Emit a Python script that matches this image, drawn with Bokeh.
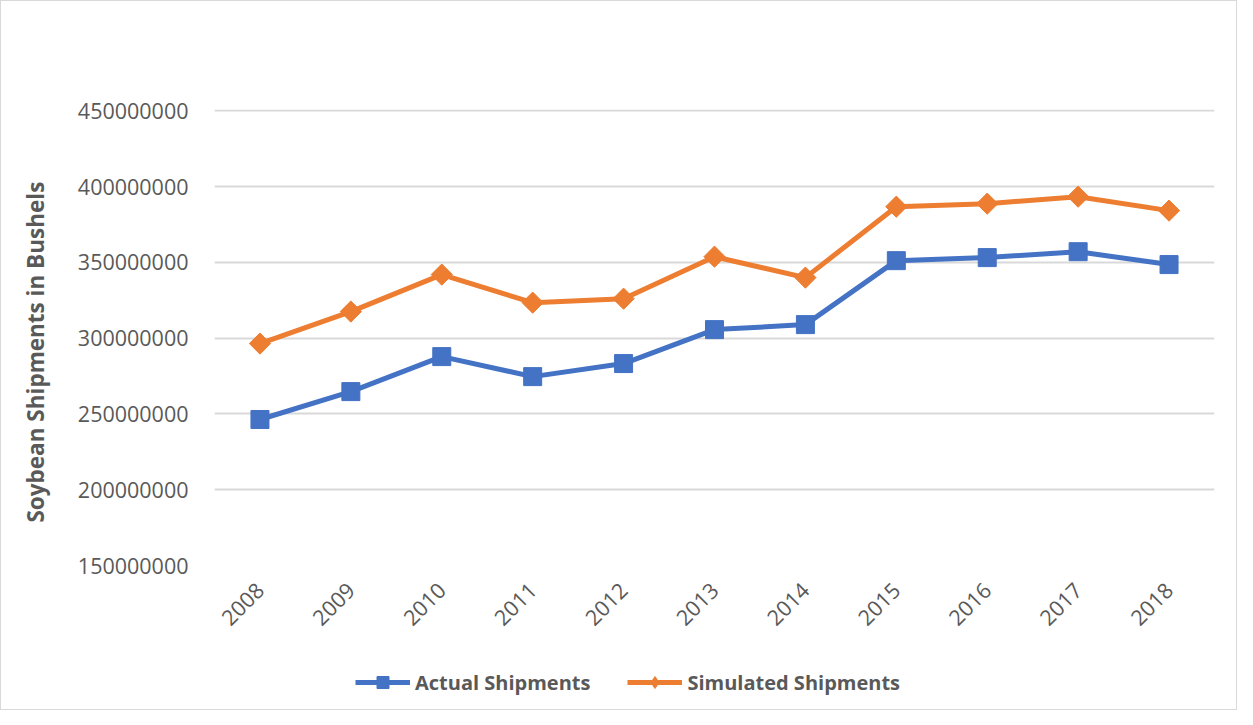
from bokeh.plotting import figure
from bokeh.layouts import column
from bokeh.models import Legend, LegendItem, FixedTicker, NumeralTickFormatter
from bokeh.embed import file_html
from bokeh.resources import INLINE
import math

years = [2008, 2009, 2010, 2011, 2012, 2013, 2014, 2015, 2016, 2017, 2018]
actual = [246300000, 264700000, 287800000, 274600000, 283200000, 305600000,
          308900000, 351100000, 353100000, 357000000, 348500000]
simulated = [296400000, 317500000, 341900000, 323400000, 326000000, 353700000,
             339900000, 386700000, 388700000, 393300000, 384100000]
y_ticks = [150000000, 200000000, 250000000, 300000000, 350000000, 400000000, 450000000]
series_names = ["Actual Shipments", "Simulated Shipments"]
y_title = "Soybean Shipments in Bushels"

BLUE = "#4472C4"
ORANGE = "#ED7D31"
TXT = "#595959"
FONT = "Open Sans"

p = figure(width=1235, height=650, output_backend="svg", toolbar_location=None,
           x_range=(2007.5, 2018.5), y_range=(150000000, 450800000),
           min_border_left=213, min_border_right=22, min_border_top=108,
           min_border_bottom=86)
p.outline_line_color = None
p.background_fill_color = "white"

p.line(years, actual, line_color=BLUE, line_width=5)
p.scatter(years, actual, marker="square", size=18, fill_color=BLUE, line_color=BLUE)
p.line(years, simulated, line_color=ORANGE, line_width=5)
p.scatter(years, simulated, marker="square", size=15, angle=math.pi / 4,
          fill_color=ORANGE, line_color=ORANGE)

p.xaxis.ticker = FixedTicker(ticks=years)
p.xaxis.major_label_orientation = math.pi / 4
p.xaxis.axis_line_color = None
p.xaxis.major_tick_line_color = None
p.xaxis.minor_tick_line_color = None
p.xaxis.major_label_text_font = FONT
p.xaxis.major_label_text_font_size = "21.5px"
p.xaxis.major_label_text_color = TXT
p.xaxis.major_label_standoff = 15
p.xgrid.grid_line_color = None

p.yaxis.ticker = FixedTicker(ticks=y_ticks)
p.yaxis.formatter = NumeralTickFormatter(format="0")
p.yaxis.axis_line_color = None
p.yaxis.major_tick_line_color = None
p.yaxis.minor_tick_line_color = None
p.yaxis.major_label_text_font = FONT
p.yaxis.major_label_text_font_size = "21.5px"
p.yaxis.major_label_text_color = TXT
p.yaxis.major_label_standoff = 20
p.yaxis.axis_label = y_title + "\u00a0" * 5
p.yaxis.axis_label_text_font = FONT
p.yaxis.axis_label_text_font_style = "bold"
p.yaxis.axis_label_text_font_size = "22.5px"
p.yaxis.axis_label_text_color = TXT
p.yaxis.axis_label_standoff = 24
p.ygrid.grid_line_color = "#D9D9D9"
p.ygrid.grid_line_width = 2

# legend strip
q = figure(width=1235, height=58, output_backend="svg", toolbar_location=None,
           x_range=(0, 1), y_range=(0, 1), min_border=0)
q.axis.visible = False
q.grid.grid_line_color = None
q.outline_line_color = None
ql1 = q.line([-5, -4], [-5, -4], line_color=BLUE, line_width=5)
qm1 = q.scatter([-5], [-5], marker="square", size=15, fill_color=BLUE, line_color=BLUE)
ql2 = q.line([-5, -4], [-5, -4], line_color=ORANGE, line_width=5)
qm2 = q.scatter([-5], [-5], marker="diamond", size=17,
                fill_color=ORANGE, line_color=ORANGE)

legend = Legend(items=[LegendItem(label=series_names[0], renderers=[ql1, qm1]),
                       LegendItem(label=series_names[1], renderers=[ql2, qm2])],
                orientation="horizontal", location=(141, 12))
legend.border_line_color = None
legend.background_fill_alpha = 0
legend.padding = 0
legend.margin = 0
legend.spacing = 37
legend.glyph_width = 55
legend.glyph_height = 30
legend.label_standoff = 5
legend.label_text_font = FONT
legend.label_text_font_style = "bold"
legend.label_text_font_size = "20px"
legend.label_text_color = TXT
q.add_layout(legend, "center")

layout = column(p, q, spacing=0, styles={"border": "1px solid #D9D9D9"})
open("out.html", "w").write(file_html(layout, INLINE))
